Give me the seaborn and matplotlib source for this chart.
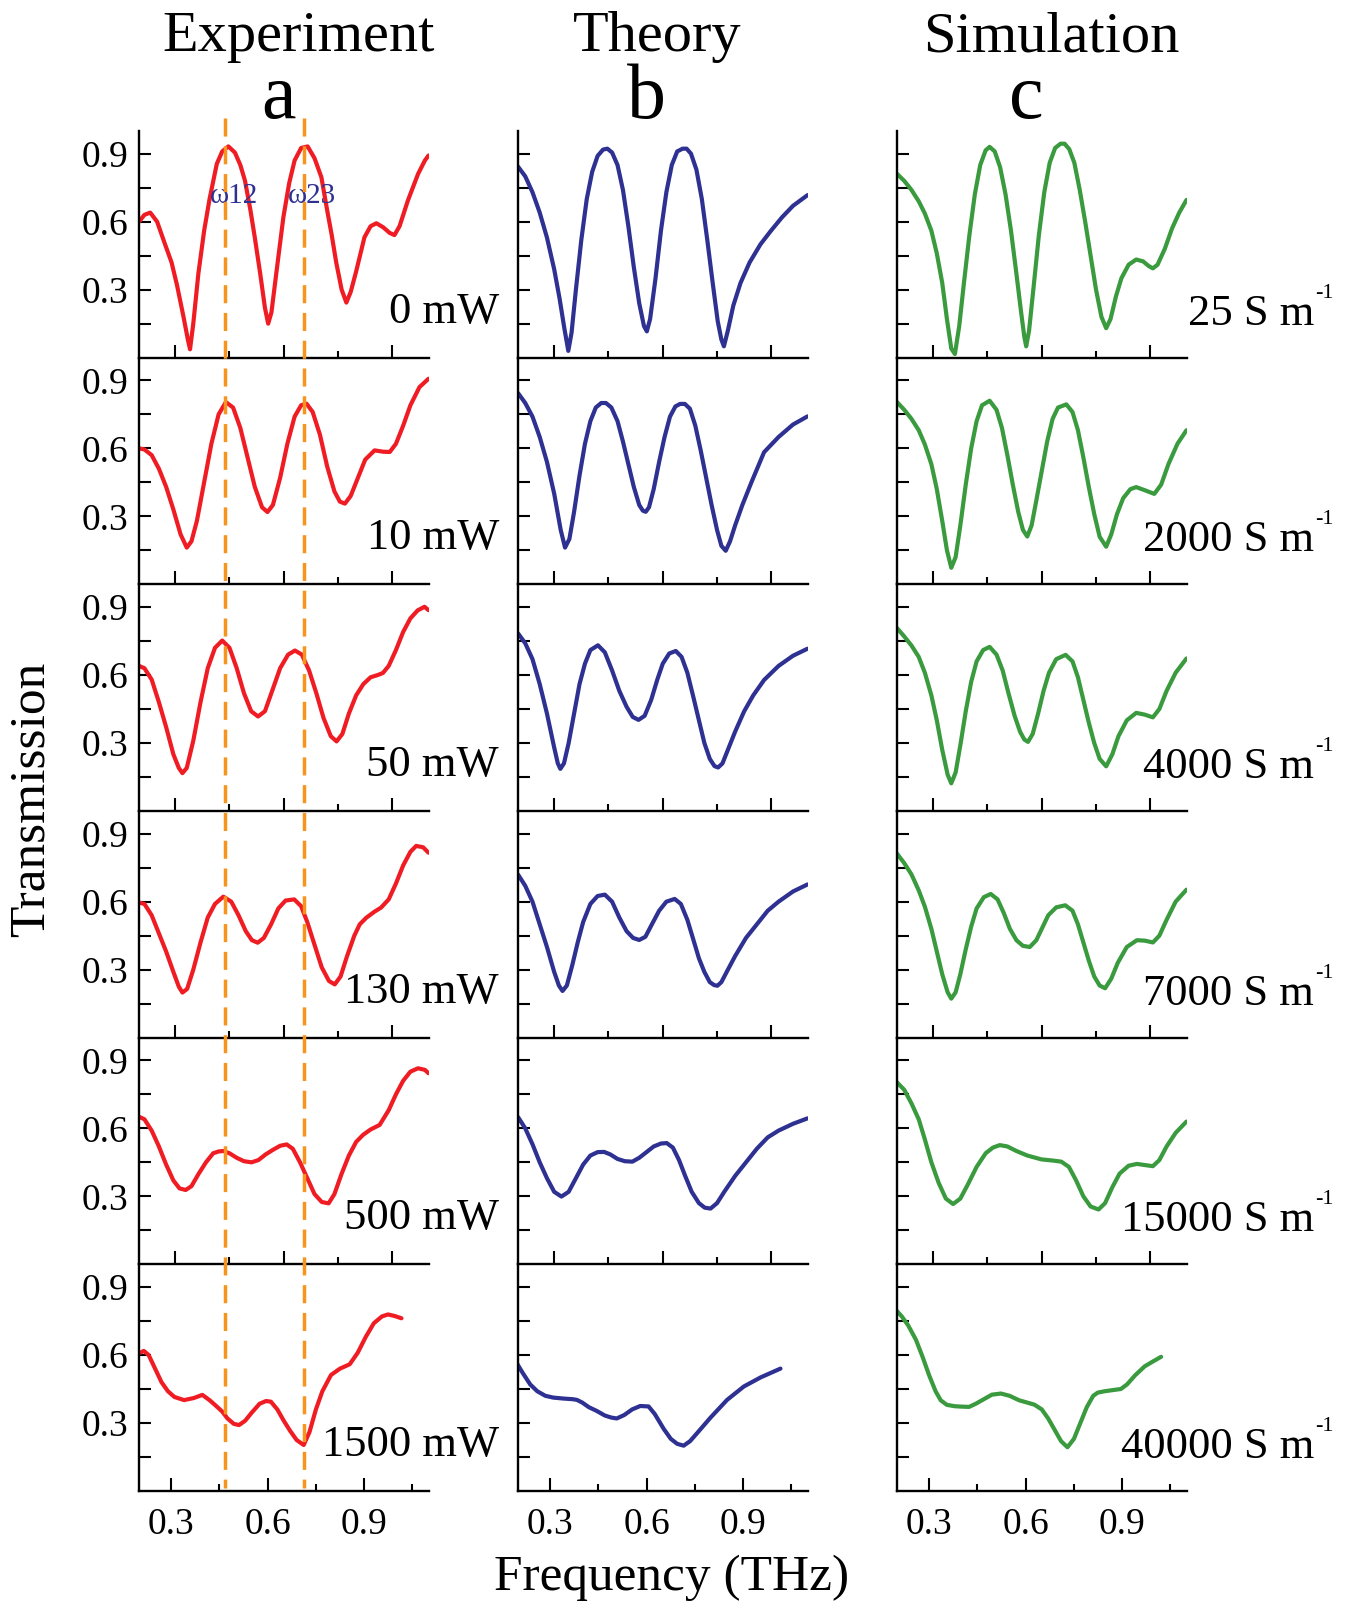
import matplotlib
matplotlib.use("Agg")
import matplotlib.pyplot as plt
import matplotlib.transforms as mtransforms
from matplotlib.lines import Line2D
from matplotlib.ticker import FixedLocator, NullFormatter
import seaborn as sns

# ---------------- data ----------------
col_titles = ["Experiment", "Theory", "Simulation"]
col_letters = ["a", "b", "c"]
exp_labels = ["0 mW", "10 mW", "50 mW", "130 mW", "500 mW", "1500 mW"]
sim_values = ["25", "2000", "4000", "7000", "15000", "40000"]
omega_freqs = [0.438, 0.657]          # dashed markers (scale of rows 1-5)
omega_labels = ["ω12", "ω23"]
omega_label_x = [0.397, 0.612]
omega_label_y = 0.715

# Experiment (red)
exp0_x = [0.200,0.215,0.231,0.250,0.272,0.290,0.305,0.323,0.335,0.341,0.350,0.364,0.380,0.395,0.415,0.430,0.447,0.465,0.480,0.493,0.508,0.520,0.535,0.548,0.557,0.566,0.580,0.599,0.615,0.630,0.648,0.666,0.685,0.704,0.720,0.732,0.745,0.760,0.773,0.785,0.800,0.823,0.840,0.856,0.875,0.893,0.906,0.920,0.943,0.971,0.990,1.000]
exp0_y = [0.600,0.630,0.640,0.600,0.500,0.420,0.320,0.180,0.080,0.037,0.150,0.370,0.560,0.700,0.855,0.910,0.932,0.905,0.850,0.780,0.650,0.530,0.370,0.220,0.150,0.200,0.380,0.620,0.770,0.870,0.925,0.932,0.880,0.796,0.650,0.546,0.420,0.300,0.243,0.290,0.380,0.531,0.580,0.593,0.575,0.550,0.541,0.580,0.693,0.810,0.870,0.892]
exp1_x = [0.200,0.215,0.235,0.255,0.275,0.295,0.315,0.332,0.345,0.360,0.380,0.400,0.420,0.440,0.460,0.480,0.500,0.520,0.540,0.555,0.570,0.590,0.610,0.630,0.648,0.663,0.680,0.700,0.720,0.740,0.755,0.769,0.785,0.805,0.825,0.851,0.875,0.893,0.910,0.930,0.950,0.975,1.000]
exp1_y = [0.600,0.595,0.570,0.510,0.430,0.330,0.220,0.162,0.190,0.280,0.450,0.620,0.750,0.804,0.780,0.690,0.560,0.430,0.340,0.319,0.350,0.470,0.620,0.740,0.790,0.797,0.760,0.660,0.520,0.410,0.365,0.356,0.390,0.470,0.550,0.591,0.585,0.584,0.620,0.700,0.790,0.870,0.907]
exp2_x = [0.200,0.215,0.235,0.255,0.275,0.295,0.310,0.320,0.332,0.350,0.370,0.390,0.410,0.430,0.450,0.470,0.490,0.510,0.529,0.548,0.568,0.590,0.612,0.631,0.650,0.670,0.690,0.710,0.730,0.746,0.762,0.780,0.800,0.820,0.840,0.860,0.874,0.890,0.910,0.930,0.950,0.970,0.989,1.000]
exp2_y = [0.640,0.630,0.580,0.480,0.370,0.250,0.190,0.167,0.190,0.310,0.480,0.630,0.720,0.752,0.720,0.630,0.520,0.440,0.417,0.440,0.530,0.630,0.690,0.708,0.690,0.620,0.520,0.410,0.330,0.307,0.340,0.430,0.510,0.560,0.590,0.600,0.609,0.640,0.710,0.790,0.850,0.885,0.901,0.886]
exp3_x = [0.200,0.215,0.235,0.255,0.275,0.295,0.310,0.320,0.333,0.350,0.370,0.390,0.410,0.433,0.455,0.475,0.495,0.512,0.528,0.545,0.565,0.585,0.605,0.629,0.648,0.665,0.685,0.705,0.725,0.741,0.757,0.775,0.795,0.810,0.828,0.850,0.869,0.890,0.910,0.930,0.950,0.966,0.985,1.000]
exp3_y = [0.596,0.590,0.540,0.460,0.380,0.290,0.225,0.199,0.215,0.300,0.420,0.530,0.590,0.622,0.600,0.540,0.470,0.430,0.419,0.440,0.500,0.570,0.605,0.610,0.580,0.510,0.410,0.310,0.250,0.235,0.270,0.360,0.450,0.500,0.529,0.555,0.574,0.610,0.680,0.760,0.820,0.846,0.840,0.816]
exp4_x = [0.200,0.215,0.235,0.255,0.275,0.295,0.312,0.329,0.345,0.365,0.385,0.405,0.420,0.433,0.450,0.470,0.490,0.511,0.530,0.550,0.570,0.590,0.608,0.625,0.645,0.665,0.685,0.705,0.724,0.740,0.760,0.780,0.800,0.819,0.840,0.865,0.890,0.910,0.930,0.950,0.971,0.990,1.000]
exp4_y = [0.651,0.640,0.590,0.520,0.440,0.370,0.335,0.328,0.345,0.400,0.450,0.490,0.498,0.500,0.490,0.470,0.455,0.450,0.460,0.485,0.505,0.523,0.529,0.510,0.450,0.380,0.310,0.275,0.269,0.310,0.400,0.480,0.540,0.571,0.595,0.615,0.680,0.750,0.810,0.850,0.865,0.858,0.843]
exp5_x = [0.199,0.215,0.230,0.250,0.270,0.290,0.310,0.340,0.370,0.397,0.420,0.440,0.459,0.475,0.495,0.511,0.530,0.550,0.575,0.595,0.610,0.630,0.650,0.670,0.690,0.712,0.730,0.750,0.770,0.797,0.825,0.855,0.880,0.905,0.930,0.955,0.974,0.995,1.016]
exp5_y = [0.607,0.618,0.600,0.540,0.480,0.440,0.415,0.401,0.410,0.424,0.400,0.375,0.350,0.320,0.296,0.291,0.310,0.345,0.385,0.397,0.394,0.360,0.310,0.265,0.225,0.203,0.260,0.360,0.440,0.512,0.540,0.559,0.610,0.680,0.740,0.770,0.779,0.772,0.762]

# Theory (blue)
th0_x = [0.200,0.220,0.240,0.260,0.280,0.300,0.315,0.328,0.339,0.348,0.360,0.375,0.390,0.405,0.420,0.435,0.447,0.460,0.475,0.490,0.505,0.520,0.535,0.548,0.556,0.565,0.580,0.595,0.610,0.625,0.640,0.655,0.666,0.678,0.693,0.708,0.723,0.738,0.752,0.762,0.769,0.780,0.795,0.815,0.840,0.870,0.898,0.930,0.960,1.000]
th0_y = [0.843,0.800,0.730,0.640,0.530,0.390,0.260,0.130,0.030,0.110,0.300,0.520,0.700,0.820,0.890,0.918,0.922,0.905,0.850,0.740,0.580,0.400,0.240,0.140,0.116,0.170,0.350,0.560,0.730,0.850,0.910,0.922,0.922,0.900,0.830,0.700,0.520,0.330,0.160,0.080,0.050,0.120,0.230,0.330,0.420,0.500,0.558,0.620,0.670,0.717]
th1_x = [0.200,0.220,0.240,0.260,0.280,0.300,0.318,0.330,0.342,0.355,0.370,0.385,0.400,0.415,0.430,0.443,0.458,0.475,0.490,0.505,0.520,0.535,0.545,0.553,0.562,0.575,0.590,0.605,0.620,0.635,0.648,0.661,0.675,0.690,0.705,0.720,0.735,0.750,0.762,0.774,0.786,0.800,0.820,0.845,0.880,0.920,0.960,1.000]
th1_y = [0.844,0.800,0.740,0.650,0.540,0.400,0.240,0.162,0.200,0.320,0.480,0.620,0.720,0.780,0.800,0.800,0.780,0.720,0.630,0.530,0.430,0.350,0.325,0.320,0.340,0.420,0.540,0.650,0.740,0.785,0.796,0.796,0.775,0.700,0.590,0.470,0.350,0.240,0.170,0.148,0.190,0.260,0.350,0.450,0.583,0.650,0.705,0.741]
th2_x = [0.200,0.220,0.240,0.260,0.280,0.300,0.310,0.317,0.327,0.340,0.355,0.370,0.385,0.400,0.421,0.440,0.460,0.480,0.500,0.517,0.533,0.550,0.568,0.585,0.600,0.618,0.636,0.652,0.668,0.685,0.700,0.715,0.730,0.743,0.753,0.765,0.780,0.800,0.825,0.850,0.880,0.920,0.960,1.000]
th2_y = [0.784,0.740,0.670,0.560,0.430,0.280,0.210,0.186,0.210,0.300,0.430,0.560,0.650,0.710,0.731,0.700,0.620,0.530,0.460,0.415,0.402,0.420,0.490,0.580,0.650,0.695,0.706,0.680,0.610,0.500,0.400,0.300,0.230,0.198,0.192,0.210,0.270,0.350,0.440,0.510,0.578,0.640,0.685,0.716]
th3_x = [0.200,0.220,0.240,0.260,0.280,0.300,0.313,0.323,0.335,0.350,0.365,0.380,0.400,0.420,0.440,0.460,0.480,0.500,0.518,0.535,0.552,0.570,0.590,0.610,0.633,0.650,0.668,0.685,0.700,0.715,0.730,0.742,0.751,0.762,0.780,0.800,0.830,0.860,0.890,0.920,0.960,1.000]
th3_y = [0.720,0.670,0.600,0.500,0.400,0.290,0.230,0.206,0.230,0.320,0.420,0.510,0.590,0.625,0.631,0.600,0.530,0.470,0.440,0.431,0.445,0.500,0.560,0.600,0.612,0.590,0.520,0.430,0.350,0.290,0.245,0.232,0.229,0.245,0.300,0.360,0.440,0.500,0.560,0.600,0.645,0.676]
th4_x = [0.200,0.220,0.240,0.260,0.280,0.300,0.320,0.340,0.360,0.380,0.400,0.420,0.438,0.455,0.475,0.495,0.516,0.535,0.555,0.575,0.595,0.611,0.628,0.645,0.662,0.680,0.700,0.716,0.732,0.750,0.770,0.800,0.830,0.860,0.890,0.920,0.960,1.000]
th4_y = [0.650,0.600,0.530,0.450,0.380,0.320,0.299,0.320,0.380,0.440,0.480,0.495,0.496,0.485,0.465,0.455,0.453,0.470,0.495,0.520,0.533,0.535,0.515,0.460,0.390,0.320,0.270,0.250,0.246,0.270,0.320,0.390,0.450,0.510,0.560,0.590,0.620,0.644]
th5_x = [0.198,0.215,0.238,0.260,0.285,0.310,0.340,0.370,0.383,0.400,0.420,0.445,0.470,0.490,0.507,0.530,0.555,0.580,0.606,0.625,0.653,0.675,0.695,0.715,0.735,0.756,0.798,0.850,0.902,0.954,1.016]
th5_y = [0.560,0.520,0.470,0.440,0.420,0.412,0.408,0.405,0.402,0.390,0.370,0.353,0.333,0.324,0.320,0.335,0.360,0.375,0.373,0.340,0.274,0.230,0.208,0.200,0.220,0.254,0.323,0.402,0.461,0.501,0.540]

# Simulation (green)
sim0_x = [0.200,0.220,0.240,0.260,0.277,0.295,0.310,0.325,0.338,0.350,0.360,0.372,0.385,0.400,0.415,0.430,0.445,0.456,0.470,0.485,0.500,0.515,0.530,0.543,0.552,0.557,0.565,0.578,0.592,0.607,0.622,0.637,0.652,0.663,0.676,0.690,0.705,0.720,0.735,0.750,0.765,0.778,0.790,0.805,0.820,0.840,0.861,0.880,0.895,0.907,0.920,0.940,0.960,0.980,1.000]
sim0_y = [0.811,0.780,0.740,0.690,0.636,0.560,0.460,0.330,0.170,0.040,0.016,0.140,0.330,0.540,0.720,0.850,0.915,0.930,0.910,0.840,0.720,0.560,0.370,0.200,0.090,0.050,0.120,0.320,0.540,0.730,0.860,0.925,0.944,0.944,0.920,0.860,0.740,0.600,0.450,0.300,0.180,0.130,0.170,0.270,0.350,0.410,0.433,0.425,0.405,0.394,0.410,0.480,0.570,0.640,0.696]
sim1_x = [0.200,0.220,0.240,0.260,0.277,0.295,0.310,0.325,0.338,0.350,0.362,0.375,0.390,0.405,0.420,0.435,0.456,0.475,0.490,0.505,0.520,0.535,0.548,0.560,0.572,0.585,0.600,0.615,0.630,0.645,0.668,0.685,0.700,0.715,0.730,0.745,0.760,0.778,0.792,0.808,0.825,0.845,0.861,0.885,0.911,0.930,0.950,0.975,1.000]
sim1_y = [0.804,0.770,0.730,0.680,0.617,0.530,0.420,0.280,0.150,0.073,0.120,0.260,0.440,0.600,0.720,0.790,0.810,0.770,0.690,0.570,0.440,0.320,0.240,0.211,0.260,0.370,0.500,0.630,0.730,0.780,0.794,0.760,0.680,0.560,0.430,0.310,0.210,0.166,0.220,0.310,0.380,0.420,0.429,0.415,0.399,0.440,0.530,0.620,0.680]
sim2_x = [0.200,0.220,0.240,0.260,0.277,0.295,0.310,0.325,0.340,0.350,0.362,0.375,0.390,0.405,0.420,0.438,0.456,0.475,0.492,0.508,0.525,0.540,0.552,0.562,0.575,0.590,0.605,0.620,0.640,0.666,0.685,0.700,0.715,0.730,0.745,0.760,0.778,0.795,0.812,0.835,0.861,0.885,0.907,0.925,0.945,0.970,1.000]
sim2_y = [0.807,0.770,0.730,0.680,0.610,0.510,0.400,0.270,0.160,0.122,0.170,0.290,0.440,0.570,0.660,0.710,0.724,0.690,0.620,0.520,0.420,0.350,0.315,0.305,0.340,0.430,0.530,0.610,0.670,0.689,0.660,0.590,0.490,0.390,0.300,0.230,0.197,0.250,0.330,0.400,0.433,0.425,0.413,0.450,0.530,0.610,0.673]
sim3_x = [0.200,0.220,0.240,0.260,0.277,0.295,0.310,0.325,0.340,0.350,0.362,0.375,0.390,0.405,0.420,0.440,0.459,0.478,0.495,0.512,0.530,0.548,0.567,0.585,0.600,0.618,0.640,0.665,0.685,0.700,0.715,0.730,0.745,0.760,0.775,0.792,0.810,0.835,0.863,0.885,0.907,0.925,0.945,0.970,1.000]
sim3_y = [0.812,0.770,0.720,0.650,0.578,0.480,0.380,0.280,0.200,0.172,0.200,0.280,0.390,0.490,0.570,0.620,0.634,0.610,0.550,0.480,0.430,0.405,0.400,0.430,0.480,0.540,0.575,0.584,0.560,0.500,0.420,0.340,0.270,0.230,0.218,0.260,0.330,0.400,0.430,0.428,0.420,0.450,0.520,0.600,0.653]
sim4_x = [0.200,0.220,0.240,0.260,0.277,0.295,0.315,0.335,0.355,0.375,0.395,0.420,0.445,0.465,0.484,0.505,0.530,0.560,0.599,0.630,0.654,0.675,0.695,0.715,0.735,0.757,0.775,0.795,0.815,0.840,0.863,0.885,0.907,0.925,0.945,0.970,1.000]
sim4_y = [0.803,0.770,0.710,0.640,0.551,0.450,0.360,0.290,0.266,0.290,0.350,0.430,0.490,0.515,0.526,0.520,0.500,0.480,0.463,0.458,0.453,0.430,0.370,0.300,0.255,0.242,0.270,0.340,0.400,0.435,0.443,0.438,0.433,0.460,0.520,0.580,0.630]
sim5_x = [0.196,0.215,0.235,0.259,0.280,0.300,0.320,0.336,0.355,0.380,0.405,0.424,0.445,0.470,0.495,0.523,0.550,0.580,0.605,0.627,0.650,0.670,0.690,0.710,0.730,0.750,0.770,0.790,0.810,0.824,0.845,0.870,0.896,0.915,0.940,0.970,1.000,1.021]
sim5_y = [0.800,0.770,0.730,0.667,0.590,0.510,0.440,0.400,0.380,0.374,0.372,0.371,0.385,0.405,0.425,0.430,0.420,0.400,0.390,0.381,0.360,0.320,0.270,0.220,0.193,0.230,0.300,0.370,0.420,0.434,0.440,0.445,0.450,0.470,0.510,0.550,0.575,0.592]

exp_x = [exp0_x, exp1_x, exp2_x, exp3_x, exp4_x, exp5_x]
exp_y = [exp0_y, exp1_y, exp2_y, exp3_y, exp4_y, exp5_y]
th_x = [th0_x, th1_x, th2_x, th3_x, th4_x, th5_x]
th_y = [th0_y, th1_y, th2_y, th3_y, th4_y, th5_y]
sim_x = [sim0_x, sim1_x, sim2_x, sim3_x, sim4_x, sim5_x]
sim_y = [sim0_y, sim1_y, sim2_y, sim3_y, sim4_y, sim5_y]

colors = ["#f01c24", "#2e3192", "#3a9a3e"]
orange = "#f7941d"
omega_color = "#2e3192"

# ---------------- style ----------------
sns.set_theme(style="ticks")
plt.rcParams["font.family"] = ["Liberation Serif", "DejaVu Serif"]
plt.rcParams["axes.edgecolor"] = "black"
plt.rcParams["xtick.color"] = "black"
plt.rcParams["ytick.color"] = "black"
plt.rcParams["text.color"] = "black"

W, H = 1347, 1604
fig = plt.figure(figsize=(W / 100, H / 100), dpi=100)
fig.patch.set_facecolor("white")

col_left = [139, 518, 897]
col_w = 289.5
top, bot = 131, 1491
rh = (bot - top) / 6

def fx(x):
    return x / W

def fy(y):
    return 1 - y / H

axes = [[None] * 3 for _ in range(6)]
series = [(exp_x, exp_y), (th_x, th_y), (sim_x, sim_y)]
for r in range(6):
    for c in range(3):
        y0 = top + (r + 1) * rh
        ax = fig.add_axes([fx(col_left[c]), fy(y0), col_w / W, rh / H])
        ax.patch.set_alpha(0)
        axes[r][c] = ax
        xs, ys = series[c][0][r], series[c][1][r]
        sns.lineplot(x=xs, y=ys, ax=ax, color=colors[c], linewidth=3.0,
                     sort=False, estimator=None,
                     solid_joinstyle="round", solid_capstyle="round")
        last = (r == 5)
        ax.set_xlim(0.2, 1.1 if last else 1.0)
        ax.set_ylim(0, 1.0)
        ax.xaxis.set_major_locator(FixedLocator([0.3, 0.6, 0.9]))
        ax.xaxis.set_minor_locator(FixedLocator([0.45, 0.75, 1.05] if last else [0.45, 0.75]))
        ax.yaxis.set_major_locator(FixedLocator([0.3, 0.6, 0.9]))
        ax.yaxis.set_minor_locator(FixedLocator([0.15, 0.45, 0.75]))
        ax.xaxis.set_minor_formatter(NullFormatter())
        ax.yaxis.set_minor_formatter(NullFormatter())
        for s in ["top", "right"]:
            ax.spines[s].set_visible(False)
        for s in ["left", "bottom"]:
            ax.spines[s].set_linewidth(1.7)
            ax.spines[s].set_color("black")
        ax.tick_params(axis="x", which="major", direction="in", length=9.5, width=1.5,
                       labelsize=27, pad=12, labelbottom=last)
        ax.tick_params(axis="x", which="minor", direction="in", length=5, width=1.5)
        ax.tick_params(axis="y", which="both", direction="in", length=8.5, width=1.5,
                       labelsize=27, pad=8, labelleft=(c == 0))
        ax.set_xlabel("")
        ax.set_ylabel("")
        if last:
            ax.set_xticklabels(["0.3", "0.6", "0.9"])
        if c == 0:
            ax.set_yticklabels(["0.3", "0.6", "0.9"])
            ax.text(1.2435, 0.155, exp_labels[r], transform=ax.transAxes,
                    ha="right", va="baseline", fontsize=32)
        if c == 2:
            # main text + small raised "-1"
            ax.text(1.440, 0.145, sim_values[r] + " S m", transform=ax.transAxes,
                    ha="right", va="baseline", fontsize=32)
            ax.text(1.443, 0.265, "-1", transform=ax.transAxes,
                    ha="left", va="baseline", fontsize=16)

# omega labels
for lx, lab in zip(omega_label_x, omega_labels):
    axes[0][0].text(lx, omega_label_y, lab, ha="left", va="center",
                    fontsize=21, color=omega_color)

# dashed vertical markers spanning the whole Experiment column
blend = mtransforms.blended_transform_factory(axes[0][0].transData, fig.transFigure)
for f in omega_freqs:
    ln = Line2D([f, f], [fy(118), fy(1488)], transform=blend, color=orange,
                linewidth=2.5, linestyle=(0, (5.2, 2.8)), zorder=5)
    fig.add_artist(ln)

# headings
title_x = [299, 657, 1051]
letter_x = [278, 646, 1026]
for t, lx, l, ltx in zip(col_titles, title_x, col_letters, letter_x):
    fig.text(fx(lx), fy(51), t, ha="center", va="baseline", fontsize=42)
    fig.text(fx(ltx), fy(118), l, ha="center", va="baseline", fontsize=56)

fig.text(fx(672), fy(1590), "Frequency (THz)", ha="center", va="baseline", fontsize=37)
fig.text(fx(31), fy(799), "Transmission", ha="center", va="center",
         rotation=90, fontsize=37)

fig.savefig("out.png", dpi=100, facecolor="white")
